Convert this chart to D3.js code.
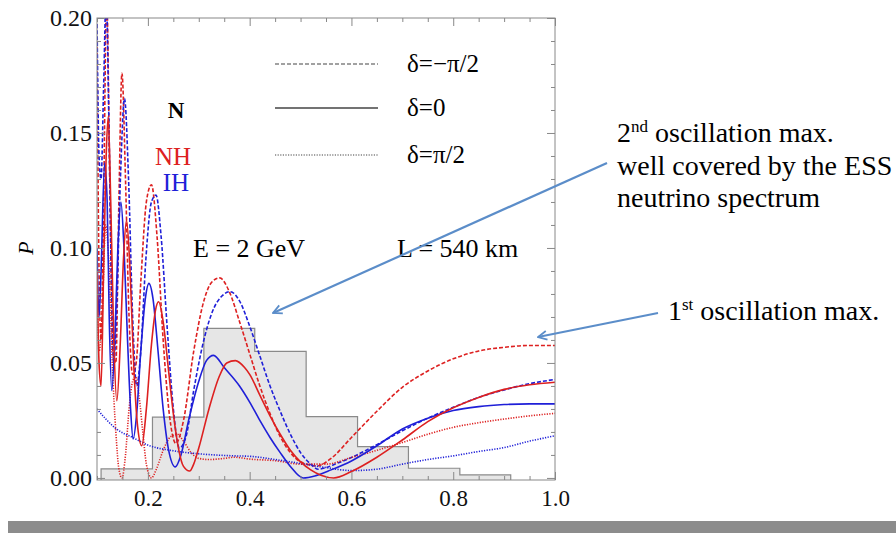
<!DOCTYPE html>
<html>
<head>
<meta charset="utf-8">
<style>
    body { margin: 0; background: #fff; }
    svg text { font-family: "Liberation Serif", "Times New Roman", serif; }
</style>
</head>
<body>
<div id="chart"></div>
<script src="https://cdn.jsdelivr.net/npm/d3@7/dist/d3.min.js"></script>
<script>
    var w = 896, h = 533;

    // ESS spectrum histogram (bin edges, heights)
    var binEdges = [0.108, 0.209, 0.31, 0.41, 0.511, 0.612, 0.712, 0.813, 0.913];
    var binHeights = [0.0039, 0.0264, 0.065, 0.055, 0.0267, 0.0136, 0.0042, 0.0013];

    // NH (red) curves
    var nhMinus = [[0.1,0.19],[0.104,0.09],[0.108,0.06],[0.113,0.12],[0.119,0.21],[0.125,0.13],[0.131,0.055],[0.137,0.05],[0.143,0.12],[0.149,0.176],[0.156,0.13],[0.163,0.07],[0.17,0.045],[0.177,0.05],[0.186,0.085],[0.197,0.12],[0.207,0.1275],[0.218,0.105],[0.23,0.06],[0.242,0.028],[0.255,0.015],[0.27,0.025],[0.29,0.055],[0.31,0.077],[0.325,0.085],[0.341,0.087],[0.36,0.081],[0.38,0.068],[0.4,0.054],[0.42,0.04],[0.44,0.028],[0.46,0.018],[0.48,0.011],[0.5,0.007],[0.532,0.0052],[0.56,0.0085],[0.6,0.0176],[0.65,0.029],[0.7,0.0394],[0.75,0.0465],[0.8,0.0518],[0.85,0.0552],[0.9,0.0568],[0.95,0.0576],[1.0,0.0576]];
    var nhZero = [[0.1,0.09],[0.104,0.05],[0.108,0.04],[0.113,0.09],[0.118,0.14],[0.122,0.157],[0.127,0.12],[0.133,0.06],[0.139,0.0336],[0.146,0.06],[0.152,0.095],[0.158,0.112],[0.165,0.09],[0.172,0.05],[0.18,0.022],[0.188,0.014],[0.197,0.03],[0.207,0.058],[0.215,0.073],[0.221,0.0766],[0.23,0.068],[0.24,0.048],[0.25,0.028],[0.26,0.013],[0.27,0.005],[0.282,0.003],[0.29,0.006],[0.3,0.013],[0.32,0.03],[0.34,0.044],[0.355,0.05],[0.372,0.051],[0.39,0.048],[0.4,0.045],[0.42,0.036],[0.44,0.027],[0.46,0.019],[0.48,0.012],[0.5,0.007],[0.52,0.0035],[0.54,0.0012],[0.565,0.0],[0.6,0.0028],[0.65,0.009],[0.7,0.0165],[0.75,0.0245],[0.8,0.0305],[0.85,0.035],[0.9,0.0385],[0.95,0.0405],[1.0,0.0416]];
    var nhPlus = [[0.1,0.085],[0.104,0.055],[0.11,0.07],[0.117,0.11],[0.124,0.09],[0.13,0.05],[0.137,0.02],[0.143,0.004],[0.149,0.0],[0.156,0.01],[0.163,0.03],[0.17,0.042],[0.176,0.044],[0.183,0.035],[0.19,0.02],[0.197,0.006],[0.207,0.0],[0.217,0.004],[0.23,0.012],[0.245,0.018],[0.257,0.019],[0.27,0.016],[0.285,0.011],[0.3,0.0085],[0.32,0.008],[0.35,0.0085],[0.37,0.009],[0.4,0.0082],[0.45,0.0075],[0.5,0.006],[0.55,0.006],[0.6,0.0089],[0.65,0.012],[0.7,0.0154],[0.75,0.019],[0.8,0.022],[0.85,0.024],[0.9,0.0256],[0.95,0.027],[1.0,0.0281]];

    // IH (blue) curves
    var ihMinus = [[0.1,0.2],[0.104,0.14],[0.108,0.13],[0.113,0.17],[0.118,0.21],[0.123,0.16],[0.128,0.09],[0.133,0.05],[0.138,0.07],[0.146,0.13],[0.154,0.165],[0.162,0.13],[0.17,0.07],[0.178,0.04],[0.186,0.055],[0.196,0.095],[0.207,0.12],[0.216,0.123],[0.226,0.105],[0.238,0.065],[0.25,0.03],[0.262,0.013],[0.275,0.018],[0.29,0.038],[0.31,0.06],[0.33,0.074],[0.345,0.079],[0.362,0.081],[0.38,0.077],[0.4,0.066],[0.42,0.053],[0.44,0.04],[0.46,0.029],[0.48,0.019],[0.5,0.011],[0.52,0.006],[0.535,0.0038],[0.55,0.0045],[0.57,0.0062],[0.6,0.0089],[0.65,0.0145],[0.7,0.0205],[0.75,0.026],[0.8,0.0307],[0.85,0.035],[0.9,0.0383],[0.95,0.041],[1.0,0.0428]];
    var ihZero = [[0.1,0.1],[0.104,0.07],[0.108,0.09],[0.115,0.137],[0.12,0.12],[0.124,0.07],[0.129,0.038],[0.135,0.06],[0.141,0.1],[0.147,0.12],[0.153,0.1],[0.16,0.06],[0.166,0.03],[0.171,0.0169],[0.178,0.028],[0.186,0.055],[0.195,0.078],[0.202,0.0846],[0.21,0.078],[0.22,0.055],[0.23,0.03],[0.24,0.013],[0.254,0.0048],[0.265,0.01],[0.28,0.025],[0.3,0.042],[0.315,0.051],[0.329,0.0533],[0.35,0.048],[0.38,0.04],[0.4,0.033],[0.42,0.025],[0.44,0.0176],[0.46,0.011],[0.48,0.005],[0.505,0.0],[0.53,0.001],[0.56,0.0035],[0.6,0.0074],[0.65,0.014],[0.7,0.0213],[0.75,0.026],[0.8,0.0293],[0.85,0.031],[0.9,0.0319],[0.95,0.0322],[1.0,0.0322]];
    var ihPlus = [[0.1,0.03],[0.12,0.025],[0.14,0.021],[0.17,0.0176],[0.2,0.0143],[0.25,0.0118],[0.3,0.0105],[0.37,0.0096],[0.4,0.0094],[0.45,0.008],[0.5,0.0063],[0.55,0.0045],[0.6,0.0032],[0.65,0.0038],[0.7,0.006],[0.75,0.008],[0.8,0.0096],[0.85,0.0115],[0.9,0.0132],[0.95,0.016],[1.0,0.0183]];

    var xMajor = [0.2, 0.4, 0.6, 0.8, 1.0];
    var yMajor = [0, 0.05, 0.1, 0.15, 0.2];

    var red = "#dd2020", blue = "#1f1fd8";
    var dashStyle = {minus: "4,2", zero: null, plus: "1.2,1.4"};

    var series = [
        {data: nhMinus, color: red, dash: dashStyle.minus},
        {data: ihMinus, color: blue, dash: dashStyle.minus},
        {data: nhPlus, color: red, dash: dashStyle.plus},
        {data: ihPlus, color: blue, dash: dashStyle.plus},
        {data: ihZero, color: blue, dash: dashStyle.zero},
        {data: nhZero, color: red, dash: dashStyle.zero}
    ];

    var fLeft = 97, fRight = 555, fTop = 18, fBottom = 480;

    var xScale = d3.scaleLinear().domain([0.1, 1.0]).range([fLeft, fRight]);
    var yScale = d3.scaleLinear().domain([-0.0009, 0.2]).range([fBottom, fTop]);

    var svg = d3.select("#chart").append("svg")
        .attr("width", w).attr("height", h);

    var defs = svg.append("defs");
    defs.append("clipPath").attr("id", "plotclip")
        .append("rect")
        .attr("x", fLeft).attr("y", fTop)
        .attr("width", fRight - fLeft).attr("height", fBottom - fTop);

    var marker = defs.append("marker")
        .attr("id", "arrow")
        .attr("viewBox", "0 0 10 10")
        .attr("refX", 9).attr("refY", 5)
        .attr("markerWidth", 5).attr("markerHeight", 5)
        .attr("orient", "auto");
    marker.append("path")
        .attr("d", "M1,1 L9,5 L1,9")
        .attr("fill", "none")
        .attr("stroke", "#5b8dc9")
        .attr("stroke-width", 1.6);

    var plot = svg.append("g").attr("clip-path", "url(#plotclip)");

    // histogram
    var bins = binHeights.map(function (v, i) { return [binEdges[i], v]; });
    bins.push([binEdges[binEdges.length - 1], 0]);
    var area = d3.area()
        .x(function (d) { return xScale(d[0]); })
        .y0(yScale(0) + 2)
        .y1(function (d) { return yScale(d[1]); })
        .curve(d3.curveStepAfter);
    plot.append("path")
        .datum(bins)
        .attr("d", area)
        .attr("fill", "#e6e6e6");
    var stepLine = d3.line()
        .x(function (d) { return xScale(d[0]); })
        .y(function (d) { return yScale(d[1]); })
        .curve(d3.curveStepAfter);
    plot.append("path")
        .datum([[binEdges[0], -0.001]].concat(bins).concat([[binEdges[binEdges.length - 1], -0.001]]))
        .attr("d", stepLine)
        .attr("fill", "none")
        .attr("stroke", "#8a8a8a")
        .attr("stroke-width", 1.2);

    // curves
    var line = d3.line()
        .x(function (d) { return xScale(d[0]); })
        .y(function (d) { return yScale(d[1]); })
        .curve(d3.curveMonotoneX);

    series.forEach(function (s) {
        plot.append("path")
            .datum(s.data)
            .attr("d", line)
            .attr("fill", "none")
            .attr("stroke", s.color)
            .attr("stroke-width", 1.6)
            .attr("stroke-dasharray", s.dash);
    });

    // frame
    svg.append("rect")
        .attr("x", fLeft).attr("y", fTop)
        .attr("width", fRight - fLeft).attr("height", fBottom - fTop)
        .attr("fill", "none")
        .attr("stroke", "#888")
        .attr("stroke-width", 1);

    var xMinor = d3.range(0.1, 1.001, 0.05).filter(function (v) {
        return xMajor.every(function (m) { return Math.abs(m - v) > 1e-6; });
    });
    var yMinor = d3.range(0, 0.2001, 0.01).filter(function (v) {
        return yMajor.every(function (m) { return Math.abs(m - v) > 1e-6; });
    });

    function styleAxis(g) {
        g.select(".domain").remove();
        g.selectAll(".tick line").attr("stroke", "#888");
        g.selectAll("text")
            .attr("fill", "#111")
            .style("font-family", '"Liberation Serif", serif');
    }

    // bottom axis
    svg.append("g")
        .attr("transform", "translate(0," + fBottom + ")")
        .call(d3.axisBottom(xScale).tickValues(xMajor).tickSize(-8).tickPadding(10).tickFormat(d3.format(".1f")))
        .call(styleAxis)
        .selectAll("text").style("font-size", "23px");
    svg.append("g")
        .attr("transform", "translate(0," + fBottom + ")")
        .call(d3.axisBottom(xScale).tickValues(xMinor).tickSize(-4).tickFormat(""))
        .call(styleAxis);
    // top axis
    svg.append("g")
        .attr("transform", "translate(0," + fTop + ")")
        .call(d3.axisTop(xScale).tickValues(xMajor).tickSize(-8).tickFormat(""))
        .call(styleAxis);
    svg.append("g")
        .attr("transform", "translate(0," + fTop + ")")
        .call(d3.axisTop(xScale).tickValues(xMinor).tickSize(-4).tickFormat(""))
        .call(styleAxis);
    // left axis
    svg.append("g")
        .attr("transform", "translate(" + fLeft + ",0)")
        .call(d3.axisLeft(yScale).tickValues(yMajor).tickSize(-8).tickPadding(5).tickFormat(d3.format(".2f")))
        .call(styleAxis)
        .selectAll("text").style("font-size", "24px");
    svg.append("g")
        .attr("transform", "translate(" + fLeft + ",0)")
        .call(d3.axisLeft(yScale).tickValues(yMinor).tickSize(-4).tickFormat(""))
        .call(styleAxis);
    // right axis
    svg.append("g")
        .attr("transform", "translate(" + fRight + ",0)")
        .call(d3.axisRight(yScale).tickValues(yMajor).tickSize(-8).tickFormat(""))
        .call(styleAxis);
    svg.append("g")
        .attr("transform", "translate(" + fRight + ",0)")
        .call(d3.axisRight(yScale).tickValues(yMinor).tickSize(-4).tickFormat(""))
        .call(styleAxis);

    // y label
    svg.append("text")
        .attr("transform", "translate(33,248) rotate(-90)")
        .attr("text-anchor", "middle")
        .style("font-size", "22px")
        .style("font-style", "italic")
        .text("P");

    // legend
    var legendItems = [
        {label: "δ=−π/2", dash: dashStyle.minus, y: 64},
        {label: "δ=0", dash: dashStyle.zero, y: 108},
        {label: "δ=π/2", dash: dashStyle.plus, y: 155}
    ];
    legendItems.forEach(function (d) {
        svg.append("line")
            .attr("x1", 275).attr("x2", 378)
            .attr("y1", d.y).attr("y2", d.y)
            .attr("stroke", "#444")
            .attr("stroke-width", d.dash ? 1.2 : 1.6)
            .attr("stroke-dasharray", d.dash);
        svg.append("text")
            .attr("x", 407).attr("y", d.y + 8)
            .style("font-size", "25px")
            .text(d.label);
    });

    // labels in the plot
    svg.append("text").attr("x", 176).attr("y", 118)
        .attr("text-anchor", "middle")
        .style("font-size", "23px").style("font-weight", "bold")
        .text("N");
    svg.append("text").attr("x", 173).attr("y", 165)
        .attr("text-anchor", "middle").attr("fill", red)
        .style("font-size", "25px")
        .text("NH");
    svg.append("text").attr("x", 176).attr("y", 191)
        .attr("text-anchor", "middle").attr("fill", blue)
        .style("font-size", "25px")
        .text("IH");
    svg.append("text").attr("x", 193).attr("y", 257)
        .style("font-size", "26px")
        .text("E = 2 GeV");
    svg.append("text").attr("x", 397).attr("y", 257)
        .style("font-size", "26px")
        .text("L = 540 km");

    // annotations
    svg.append("line")
        .attr("x1", 607).attr("y1", 163).attr("x2", 273).attr("y2", 313)
        .attr("stroke", "#5b8dc9").attr("stroke-width", 2.2)
        .attr("marker-end", "url(#arrow)");
    svg.append("line")
        .attr("x1", 658).attr("y1", 313).attr("x2", 538).attr("y2", 337)
        .attr("stroke", "#5b8dc9").attr("stroke-width", 2.2)
        .attr("marker-end", "url(#arrow)");

    var note = svg.append("text").attr("x", 617).attr("y", 142).style("font-size", "28px");
    note.append("tspan").text("2");
    note.append("tspan").attr("dy", -10).style("font-size", "17px").text("nd");
    note.append("tspan").attr("dy", 10).text(" oscillation max.");
    svg.append("text").attr("x", 617).attr("y", 175).style("font-size", "28px")
        .text("well covered by the ESS");
    svg.append("text").attr("x", 617).attr("y", 207).style("font-size", "28px")
        .text("neutrino spectrum");

    var note2 = svg.append("text").attr("x", 668).attr("y", 320).style("font-size", "28px");
    note2.append("tspan").text("1");
    note2.append("tspan").attr("dy", -10).style("font-size", "17px").text("st");
    note2.append("tspan").attr("dy", 10).text(" oscillation max.");

    // bottom bar
    svg.append("rect")
        .attr("x", 8).attr("y", 521)
        .attr("width", w - 8).attr("height", h - 521)
        .attr("fill", "#8c8c8c");
</script>
</body>
</html>
